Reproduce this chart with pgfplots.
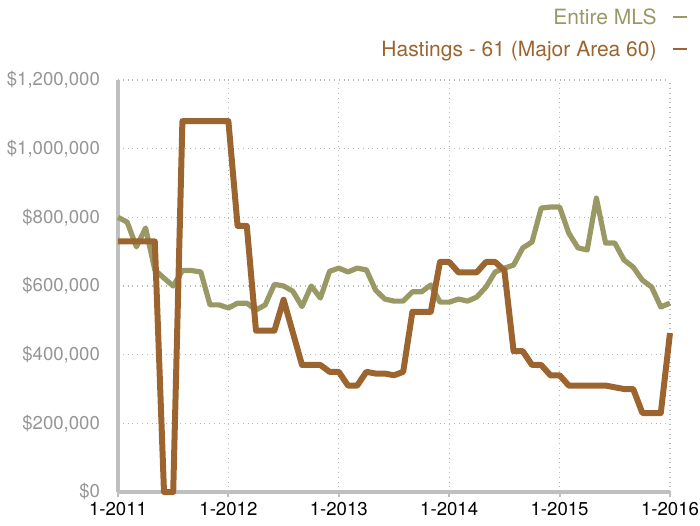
\documentclass[border=0pt]{standalone}
\usepackage{pgfplots}
\pgfplotsset{compat=1.18}
\usepackage{fontspec}
\setmainfont{TeX Gyre Heros}
\definecolor{mls}{RGB}{153,153,102}
\definecolor{hast}{RGB}{156,101,48}
\definecolor{axgray}{RGB}{191,191,191}
\definecolor{gridgray}{RGB}{185,185,185}
\definecolor{labgray}{RGB}{150,150,150}

\pgfplotstableread{
m v
0 800000
1 786000
2 714000
3 769000
4 647000
5 623000
6 600000
7 645000
8 645000
9 641000
10 545000
11 545000
12 536000
13 550000
14 550000
15 530000
16 545000
17 605000
18 600000
19 585000
20 540000
21 600000
22 565000
23 643000
24 652000
25 641000
26 652000
27 647000
28 588000
29 562000
30 556000
31 556000
32 583000
33 583000
34 603000
35 553000
36 553000
37 562000
38 556000
39 568000
40 597000
41 641000
42 652000
43 661000
44 711000
45 728000
46 827000
47 830000
48 830000
49 754000
50 711000
51 705000
52 856000
53 725000
54 725000
55 676000
56 655000
57 617000
58 597000
59 539000
60 550000
}\mlsdata

\pgfplotstableread{
m v
0 730000
1 730000
2 730000
3 730000
4 730000
5 0
6 0
7 1080000
8 1080000
9 1080000
10 1080000
11 1080000
12 1080000
13 775000
14 775000
15 470000
16 470000
17 470000
18 560000
19 465000
20 370000
21 370000
22 370000
23 350000
24 350000
25 310000
26 310000
27 350000
28 345000
29 345000
30 340000
31 350000
32 525000
33 525000
34 525000
35 670000
36 670000
37 640000
38 640000
39 640000
40 670000
41 670000
42 645000
43 410000
44 410000
45 370000
46 370000
47 340000
48 340000
49 310000
50 310000
51 310000
52 310000
53 310000
54 305000
55 300000
56 300000
57 230000
58 230000
59 230000
60 463000
}\hastdata

\newcommand{\legdash}{\hspace{8pt}\rule[3.6pt]{7pt}{0.9pt}}

\begin{document}
\begin{tikzpicture}
\path[use as bounding box] (-59pt,-16.5pt) rectangle (291pt,246pt);
\begin{axis}[
  name=ax, at={(0,0)}, anchor=south west,
  scale only axis, width=276pt, height=206pt,
  xmin=0, xmax=60, ymin=0, ymax=1200000,
  clip=false,
  axis x line=bottom, axis y line=left,
  axis line style={axgray, line width=2pt, -},
  xtick={0,12,24,36,48,60},
  xticklabels={1-2011,1-2012,1-2013,1-2014,1-2015,1-2016},
  ytick={0,200000,400000,600000,800000,1000000,1200000},
  yticklabels={\$0,\$200{,}000,\$400{,}000,\$600{,}000,\$800{,}000,\$1{,}000{,}000,\$1{,}200{,}000},
  scaled y ticks=false,
  grid=major,
  major grid style={gridgray, dotted, line width=0.7pt},
  tick align=outside,
  major tick length=2.5pt,
  x tick style={axgray, line width=1pt},
  y tick style={draw=none},
  /pgf/number format/assume math mode=true,
  tick label style={font=\fontsize{9.3}{11}\selectfont},
  xticklabel style={text=black, yshift=1pt},
  yticklabel style={text=labgray, xshift=-3pt},
]
\addplot[mls, line width=2.6pt, line join=round] table[x=m, y=v] {\mlsdata};
\addplot[hast, line width=3pt, line join=round] table[x=m, y=v] {\hastdata};
\end{axis}
\node[anchor=base east, text=mls, font=\fontsize{10.5}{12}\selectfont, inner sep=0pt]
  at ([xshift=8.5pt, yshift=27.5pt]ax.north east) {Entire MLS\legdash};
\node[anchor=base east, text=hast, font=\fontsize{10.5}{12}\selectfont, inner sep=0pt]
  at ([xshift=8.5pt, yshift=11.5pt]ax.north east) {Hastings - 61 (Major Area 60)\legdash};
\end{tikzpicture}
\end{document}
